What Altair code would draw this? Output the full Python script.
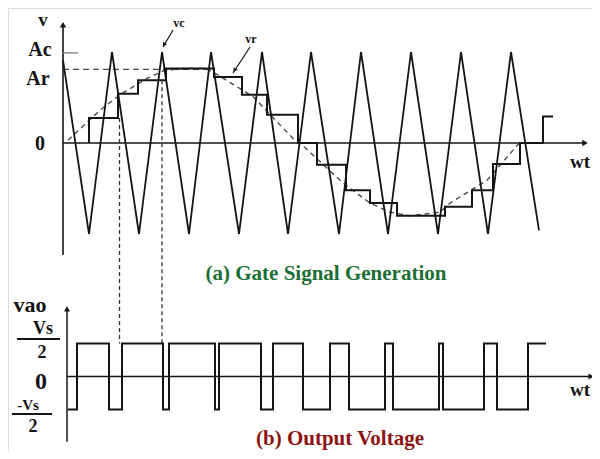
import altair as alt
import pandas as pd

# ---------------- data (x in carrier periods, top y in units of Ac, bottom y in units of Vs/2) ----
carrier_x = [0.00, 0.52, 0.98, 1.52, 1.98, 2.52, 2.96, 3.52, 3.98, 4.50, 4.96,
             5.52, 5.96, 6.50, 6.96, 7.50, 7.96, 8.50, 8.96, 9.52]
carrier_y = [0.91, -1, 1, -1, 1, -1, 1, -1, 1, -1, 1, -1, 1, -1, 1, -1, 1, -1, 1, -0.96]

ref_x = [0.10, 0.74, 1.14, 1.68, 2.04, 2.44, 2.84, 3.00, 3.80, 4.60, 4.74,
         5.60, 6.14, 6.54, 6.94, 7.54, 7.74, 8.48, 9.14]
ref_y = [0.03, 0.36, 0.53, 0.71, 0.80, 0.82, 0.82, 0.78, 0.51, 0.05, 0.00,
         -0.44, -0.66, -0.76, -0.80, -0.76, -0.66, -0.41, 0.01]

stair_edges = [0.52, 1.10, 1.50, 2.06, 3.02, 3.58, 4.08, 4.70, 5.08, 5.66, 6.14,
               6.68, 7.64, 8.18, 8.60, 9.14, 9.60, 9.80]
stair_levels = [0.275, 0.54, 0.69, 0.82, 0.725, 0.53, 0.31, 0.0, -0.24, -0.52,
                -0.66, -0.80, -0.70, -0.52, -0.23, 0.0, 0.29]

out_edges = [0.10, 0.28, 0.92, 1.18, 2.00, 2.12, 3.04, 3.12, 3.96, 4.20, 4.80,
             5.34, 5.72, 6.44, 6.60, 7.52, 7.60, 8.42, 8.68, 9.30, 9.66]
out_levels = [-1, 1, -1, 1, -1, 1, -1, 1, -1, 1, -1, 1, -1, 1, -1, 1, -1, 1, -1, 1]

AC = 1.0
AR = 0.81
# ---------------------------------------------------------------------------

W, H = 584, 443
X = alt.Scale(domain=[-1.1, 10.58], nice=False, zero=False)
YT_DOM = [-3.3846, 1.4835]
YB_DOM = [-2.2576, 11.1667]
YT = alt.Scale(domain=YT_DOM, nice=False, zero=False)
YB = alt.Scale(domain=YB_DOM, nice=False, zero=False)
INK = "#141414"
SERIF = "Liberation Serif"


def xq(f):
    return alt.X(f, type="quantitative", scale=X, axis=None)


def yq(f, s):
    return alt.Y(f, type="quantitative", scale=s, axis=None)


# tables
carrier = pd.DataFrame({"x": carrier_x, "y": carrier_y, "i": range(len(carrier_x))})
ref = pd.DataFrame({"x": ref_x, "y": ref_y, "i": range(len(ref_x))})

sp = [(stair_edges[0], 0.0)]
for k, lv in enumerate(stair_levels):
    sp.append((stair_edges[k], lv))
    sp.append((stair_edges[k + 1], lv))
stair = pd.DataFrame({"x": [p[0] for p in sp], "y": [p[1] for p in sp], "i": range(len(sp))})

op = []
for k, lv in enumerate(out_levels):
    op.append((out_edges[k], lv))
    op.append((out_edges[k + 1], lv))
outw = pd.DataFrame({"x": [p[0] for p in op], "y": [p[1] for p in op], "i": range(len(op))})

# ---------------- top panel -----------------
top_axes = alt.Chart(pd.DataFrame({
    "x": [0.0, 0.0], "y": [-1.23, 0.0], "x2": [0.0, 10.44], "y2": [1.30, 0.0]
})).mark_rule(color=INK, strokeWidth=1.6).encode(
    x=xq("x"), y=yq("y", YT), x2="x2:Q", y2="y2:Q")

top_arrows = alt.Chart(pd.DataFrame({
    "x": [0.0, 10.44], "y": [1.30, 0.0], "s": ["triangle-up", "triangle-right"]
})).mark_point(filled=True, color=INK, size=40, opacity=1).encode(
    x=xq("x"), y=yq("y", YT),
    shape=alt.Shape("s:N", scale=None, legend=None))

ref_line = alt.Chart(ref).mark_line(color="#4a4a4a", strokeWidth=1.4, strokeDash=[5, 4]).encode(
    x=xq("x"), y=yq("y", YT), order="i:Q")

ar_line = alt.Chart(pd.DataFrame({"x": [0.0], "x2": [2.88], "y": [AR]})).mark_rule(
    color="#4a4a4a", strokeWidth=1.3, strokeDash=[6, 4]).encode(
    x=xq("x"), x2="x2:Q", y=yq("y", YT))

ac_tick = alt.Chart(pd.DataFrame({"x": [0.0], "x2": [0.30], "y": [0.99]})).mark_rule(
    color="#888888", strokeWidth=1.5).encode(x=xq("x"), x2="x2:Q", y=yq("y", YT))

carrier_line = alt.Chart(carrier).mark_line(color=INK, strokeWidth=1.8).encode(
    x=xq("x"), y=yq("y", YT), order="i:Q")

stair_line = alt.Chart(stair).mark_line(color=INK, strokeWidth=2.0).encode(
    x=xq("x"), y=yq("y", YT), order="i:Q")

pointers = alt.Chart(pd.DataFrame({
    "x": [2.20, 3.74], "y": [1.242, 1.055], "x2": [2.00, 3.40], "y2": [1.055, 0.769]
})).mark_rule(color=INK, strokeWidth=1.2).encode(
    x=xq("x"), y=yq("y", YT), x2="x2:Q", y2="y2:Q")

pointer_heads = alt.Chart(pd.DataFrame({
    "x": [2.02, 3.43], "y": [1.08, 0.80], "a": [210, 213]
})).mark_point(shape="triangle-up", filled=True, color=INK, size=22, opacity=1).encode(
    x=xq("x"), y=yq("y", YT), angle=alt.Angle("a:Q", scale=None))

# dashed connectors from top staircase to the +Vs/2 level of the output
bot_plus_px = (YB_DOM[1] - 1.0) / (YB_DOM[1] - YB_DOM[0]) * H
connectors = alt.Chart(pd.DataFrame({"x": [1.13, 1.98], "y": [0.275, 0.69]})).mark_rule(
    color="#333333", strokeWidth=1.3, strokeDash=[4, 3]).encode(
    x=xq("x"), y=yq("y", YT), y2=alt.value(bot_plus_px))

top_labels = alt.Chart(pd.DataFrame({
    "x": [-0.40, -0.46, -0.50, -0.46, 10.34, 2.32, 3.76],
    "y": [1.35, 1.02, 0.70, -0.01, -0.21, 1.32, 1.14],
    "t": ["v", "Ac", "Ar", "0", "wt", "vc", "vr"],
    "fs": [19, 20, 20, 20, 19, 12, 12],
})).mark_text(font=SERIF, fontWeight="bold", color=INK, baseline="middle", align="center").encode(
    x=xq("x"), y=yq("y", YT), text="t:N", size=alt.Size("fs:Q", scale=None, legend=None))

# ---------------- bottom panel -----------------
bot_axes = alt.Chart(pd.DataFrame({
    "x": [0.08, 0.08], "y": [-1.98, 0.0], "x2": [0.08, 10.56], "y2": [2.05, 0.0]
})).mark_rule(color=INK, strokeWidth=1.5).encode(
    x=xq("x"), y=yq("y", YB), x2="x2:Q", y2="y2:Q")

bot_arrows = alt.Chart(pd.DataFrame({
    "x": [0.08, 10.56], "y": [2.05, 0.0], "s": ["triangle-up", "triangle-right"]
})).mark_point(filled=True, color=INK, size=35, opacity=1).encode(
    x=xq("x"), y=yq("y", YB),
    shape=alt.Shape("s:N", scale=None, legend=None))

out_line = alt.Chart(outw).mark_line(color=INK, strokeWidth=2.0).encode(
    x=xq("x"), y=yq("y", YB), order="i:Q")

frac_lines = alt.Chart(pd.DataFrame({
    "x": [-0.92, -1.02], "x2": [-0.06, -0.22], "y": [1.14, -1.14]
})).mark_rule(color=INK, strokeWidth=2).encode(x=xq("x"), x2="x2:Q", y=yq("y", YB))

bot_labels = alt.Chart(pd.DataFrame({
    "x": [-0.66, -0.40, -0.42, -0.44, -0.70, -0.60, 10.34],
    "y": [2.17, 1.43, 0.71, -0.17, -0.87, -1.53, -0.41],
    "t": ["vao", "Vs", "2", "0", "-Vs", "2", "wt"],
    "fs": [22, 18, 18, 24, 15, 18, 19],
})).mark_text(font=SERIF, fontWeight="bold", color=INK, baseline="middle", align="center").encode(
    x=xq("x"), y=yq("y", YB), text="t:N", size=alt.Size("fs:Q", scale=None, legend=None))

title_a = alt.Chart(pd.DataFrame({"x": [5.26], "y": [2.92], "t": ["(a) Gate Signal Generation"]})).mark_text(
    font=SERIF, fontWeight="bold", fontSize=21, color="#1c6e33", baseline="alphabetic", align="center").encode(
    x=xq("x"), y=yq("y", YB), text="t:N")

title_b = alt.Chart(pd.DataFrame({"x": [5.54], "y": [-2.09], "t": ["(b) Output Voltage"]})).mark_text(
    font=SERIF, fontWeight="bold", fontSize=21, color="#8e1414", baseline="alphabetic", align="center").encode(
    x=xq("x"), y=yq("y", YB), text="t:N")

chart = alt.layer(
    top_axes, top_arrows, ar_line, ac_tick, ref_line, carrier_line, stair_line,
    pointers, pointer_heads, connectors, top_labels,
    bot_axes, bot_arrows, out_line, frac_lines, bot_labels, title_a, title_b,
).resolve_scale(y="independent").properties(
    width=W, height=H, autosize=alt.AutoSizeParams(type="none"), padding=0,
).configure_view(stroke=None).configure(background="white")

chart.save("out.html", embed_options={"renderer": "svg", "actions": False})
